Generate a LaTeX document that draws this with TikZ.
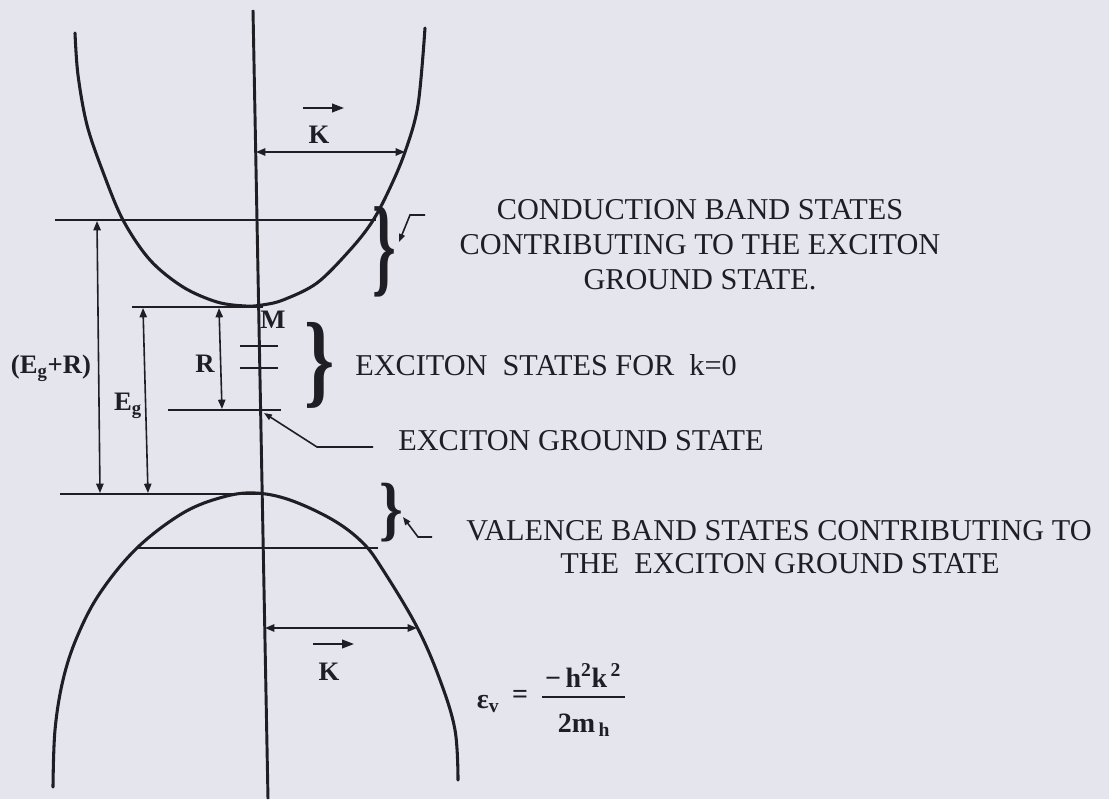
\documentclass[tikz,border=0pt]{standalone}
\usepackage{fontspec}
\setmainfont{Liberation Serif}
\usetikzlibrary{arrows.meta}
\definecolor{paper}{RGB}{229,229,238}
\definecolor{ink}{RGB}{30,30,36}
\tikzset{
  band/.style={draw=ink, line width=2.3pt, line join=round, line cap=round},
  level/.style={draw=ink, line width=1.8pt},
  axisline/.style={draw=ink, line width=2.2pt},
  dim/.style={draw=ink, line width=1.2pt, {Triangle[length=7pt,width=5.5pt]}-{Triangle[length=7pt,width=5.5pt]}},
  ptr/.style={draw=ink, line width=1.2pt, -{Triangle[length=6pt,width=4.5pt]}},
  vecarrow/.style={draw=ink, line width=1.4pt, -{Triangle[length=9pt,width=6.5pt]}},
  txt/.style={text=ink, font=\fontsize{22.7}{26}\selectfont, inner sep=0pt},
  lbl/.style={text=ink, font=\fontsize{20}{22}\selectfont\bfseries, inner sep=0pt},
  frm/.style={text=ink, font=\fontsize{21}{24}\selectfont\bfseries, inner sep=0pt},
  brc/.style={text=ink, inner sep=0pt, font=\fontsize{41}{41}\selectfont\bfseries},
}
\begin{document}
\begin{tikzpicture}[x=0.75pt,y=-0.75pt]
\fill[paper] (0,0) rectangle (1109,799);
\useasboundingbox (0,0) rectangle (1109,799);

% k axis
\coordinate (axtop) at (253,10);
\coordinate (axbot) at (268,799);
\draw[axisline] (axtop) -- (axbot);

% conduction band
\draw[band] plot[smooth, tension=0.55] coordinates {
  (75,33) (78,75) (87,125) (103,172) (123,220) (150,260) (183,287) (217,302) (245,306)
  (262,305) (283,300) (317,283) (350,250) (372,222) (389,190) (405,152) (418,105) (425,28)};

% valence band
\draw[band] plot[smooth, tension=0.6] coordinates {
  (53,787) (55,730) (63,680) (77,637) (100,593) (137,548) (183,513) (223,497) (255,493)
  (290,500) (333,520) (363,543) (383,570) (417,627) (440,680) (455,730) (458,780)};

% levels
\coordinate (topL) at (55,220);   \coordinate (topR) at (376,220);
\coordinate (mL) at (132,307);    \coordinate (mR) at (263,307);
\coordinate (x1L) at (240,346);   \coordinate (x1R) at (278,346);
\coordinate (x2L) at (240,368);   \coordinate (x2R) at (278,368);
\coordinate (gL) at (168,410);    \coordinate (gR) at (281,410);
\coordinate (vL) at (60,494);     \coordinate (vR) at (258,494);
\coordinate (iL) at (137,548);    \coordinate (iR) at (378,548);
\draw[level] (topL) -- (topR);
\draw[level] (mL) -- (mR);
\draw[level] (x1L) -- (x1R);
\draw[level] (x2L) -- (x2R);
\draw[level] (gL) -- (gR);
\draw[level] (vL) -- (vR);
\draw[level] (iL) -- (iR);

% dimension arrows
\coordinate (d1t) at (97,221);  \coordinate (d1b) at (100,493);
\coordinate (d2t) at (143,308); \coordinate (d2b) at (148,493);
\coordinate (d3t) at (219,308); \coordinate (d3b) at (222,409);
\draw[dim] (d1t) -- (d1b);
\draw[dim] (d2t) -- (d2b);
\draw[dim] (d3t) -- (d3b);

% K arrows
\coordinate (kc1) at (256,152); \coordinate (kc2) at (405,152);
\coordinate (kv1) at (265,628); \coordinate (kv2) at (417,628);
\draw[dim] (kc1) -- (kc2);
\draw[dim] (kv1) -- (kv2);
\coordinate (vc1) at (303,108); \coordinate (vc2) at (344,108);
\coordinate (vv1) at (313,644); \coordinate (vv2) at (354,644);
\draw[vecarrow] (vc1) -- (vc2);
\draw[vecarrow] (vv1) -- (vv2);

% labels
\node[lbl, anchor=base] (egr) at (51,373) {(E\textsubscript{g}+R)};
\node[lbl, anchor=base] (eg) at (128,410) {E\textsubscript{g}};
\node[lbl, anchor=base] (r) at (205,372) {R};
\node[lbl, anchor=base] (m) at (273,328) {M};
\node[lbl, anchor=base] (kc) at (319,143) {K};
\node[lbl, anchor=base] (kv) at (329,680) {K};

% braces
\node[brc] (bc) at (384,252) {\scalebox{1.1}[2]{\}}};
\node[brc] (be) at (320,365) {\scalebox{1.4}[1.9]{\}}};
\node[brc] (bv) at (391,513) {\scalebox{1.1}[1.3]{\}}};

% texts
\node[txt, anchor=base] (cb1) at (700,219) {CONDUCTION BAND STATES};
\node[txt, anchor=base] (cb2) at (700,254) {CONTRIBUTING TO THE EXCITON};
\node[txt, anchor=base] (cb3) at (700,289) {GROUND STATE.};
\node[txt, anchor=base west] (ex) at (355,375) {EXCITON\ \ STATES FOR\ \ k=0};
\node[txt, anchor=base west] (gs) at (398,450) {EXCITON GROUND STATE};
\node[txt, anchor=base] (vb1) at (779,540) {VALENCE BAND STATES CONTRIBUTING TO};
\node[txt, anchor=base] (vb2) at (780,573) {THE\ \ EXCITON GROUND STATE};

% pointers
\coordinate (pc0) at (425,215); \coordinate (pc1) at (410,215); \coordinate (pc2) at (399,242);
\draw[ptr] (pc0) -- (pc1) -- (pc2);
\coordinate (pg0) at (373,447); \coordinate (pg1) at (317,447); \coordinate (pg2) at (264,413);
\draw[ptr] (pg0) -- (pg1) -- (pg2);
\coordinate (pv0) at (432,537); \coordinate (pv1) at (418,537); \coordinate (pv2) at (403,517);
\draw[ptr] (pv0) -- (pv1) -- (pv2);

% formula
\node[frm, anchor=base] (eps) at (488,708) {ε\textsubscript{v}};
\node[frm] (eq) at (520,697) {=};
\node[frm, anchor=base] (num) at (583,687) {−\,h\textsuperscript{2}k\textsuperscript{\,2}};
\node[frm, anchor=base] (den) at (584,732) {2m\textsubscript{\,h}};
\coordinate (barL) at (542,697); \coordinate (barR) at (625,697);
\draw[draw=ink, line width=1.5pt] (barL) -- (barR);
\end{tikzpicture}
\end{document}
